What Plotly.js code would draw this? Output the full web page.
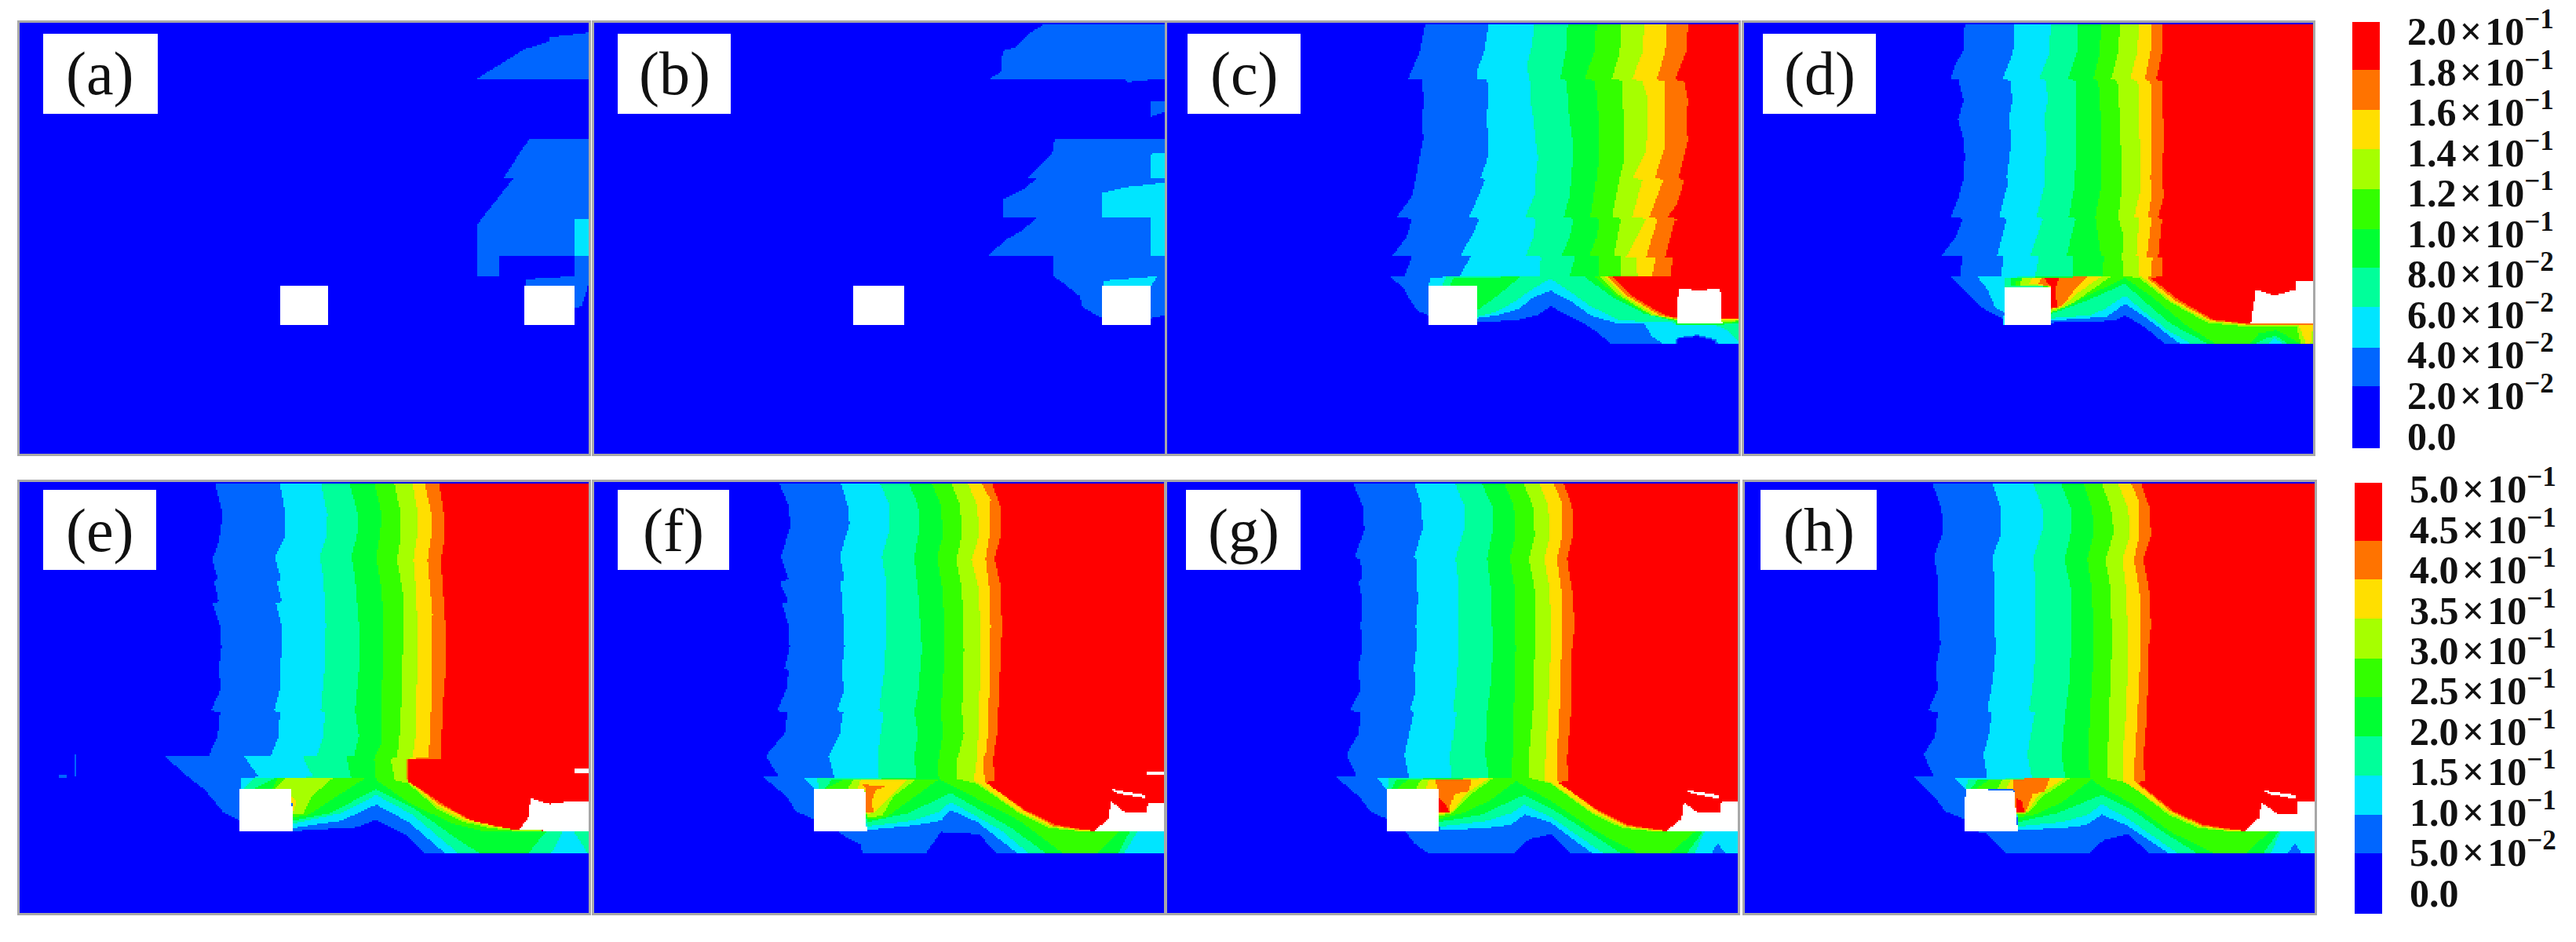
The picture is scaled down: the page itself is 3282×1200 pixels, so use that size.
<!DOCTYPE html>
<html><head><meta charset="utf-8"><script src="https://cdn.plot.ly/plotly-3.0.1.min.js"></script>
<style>html,body{margin:0;padding:0;background:#fff}</style></head><body><div id="c" style="width:3282px;height:1200px"></div>
<script>
// level colours, low to high
const levelColors=['#0000ff','#0066ff','#00e5ff','#00ff9a','#00ff33','#33ff00','#a6ff00','#ffdf00','#ff7300','#ff0000'];
const panelLabels=['(a)','(b)','(c)','(d)','(e)','(f)','(g)','(h)'];
const tickLabelsTop=['0.0','2.0\u200a×\u200a10<sup>−2</sup>','4.0\u200a×\u200a10<sup>−2</sup>','6.0\u200a×\u200a10<sup>−2</sup>','8.0\u200a×\u200a10<sup>−2</sup>','1.0\u200a×\u200a10<sup>−1</sup>','1.2\u200a×\u200a10<sup>−1</sup>','1.4\u200a×\u200a10<sup>−1</sup>','1.6\u200a×\u200a10<sup>−1</sup>','1.8\u200a×\u200a10<sup>−1</sup>','2.0\u200a×\u200a10<sup>−1</sup>'];
const tickLabelsBottom=['0.0','5.0\u200a×\u200a10<sup>−2</sup>','1.0\u200a×\u200a10<sup>−1</sup>','1.5\u200a×\u200a10<sup>−1</sup>','2.0\u200a×\u200a10<sup>−1</sup>','2.5\u200a×\u200a10<sup>−1</sup>','3.0\u200a×\u200a10<sup>−1</sup>','3.5\u200a×\u200a10<sup>−1</sup>','4.0\u200a×\u200a10<sup>−1</sup>','4.5\u200a×\u200a10<sup>−1</sup>','5.0\u200a×\u200a10<sup>−1</sup>'];
const bandEdgesTop=[-0.31,1.23,2.18,3.18,4.16,5.11,6.09,7.08,8.06,9.05,10.23];
const bandEdgesBottom=[-0.52,0.98,1.93,2.91,3.87,4.85,5.8,6.78,7.75,8.71,10.15];
// Iso-level regions: [level, [x,y,x,y,...]]; level -1 is an empty (white) area.
const regionsA=[
[1,[1255,258,1310,215,1380,160,1445,135,1445,120,1548,105,1548,260]],
[1,[1395,458,1548,458,1548,850,1315,852,1315,918,1255,918,1255,745,1350,592,1325,590,1375,490]],
[1,[1510,852,1548,852,1548,945,1530,1020,1505,1030,1505,950,1382,950,1385,930,1510,920]],
[2,[1510,725,1548,725,1548,850,1510,850]],
[-1,[735,950,865,950,865,1082,735,1082]],
[-1,[1380,950,1510,950,1510,1082,1380,1082]]];
const regionsB=[
[1,[1220,75,1535,75,1535,260,1500,262,1435,270,1430,262,1075,258,1105,235,1108,165,1140,155,1175,110]],
[1,[1497,332,1535,332,1535,370,1497,385]],
[1,[1245,460,1535,460,1535,1050,1500,1060,1370,1060,1320,1025,1310,985,1270,945,1240,918,1240,852,1070,850,1125,790,1165,760,1197,722,1108,720,1108,662,1165,625,1197,592,1175,590,1238,510]],
[2,[1497,510,1535,505,1535,590,1497,590]],
[2,[1368,640,1435,620,1535,605,1535,850,1497,850,1497,722,1368,722]],
[2,[1375,935,1515,920,1500,952,1375,952]],
[-1,[718,950,848,950,848,1082,718,1082]],
[-1,[1368,952,1497,952,1497,1082,1368,1082]]];
const regionsC=[
[1,[715,75,700,170,670,258,705,262,712,330,705,395,710,460,700,520,690,590,680,650,640,720,680,725,665,790,630,850,680,855,660,920,625,922,660,965,680,1010,695,1035,722,1050,722,1082,850,1072,950,1068,1010,1050,1045,1020,1090,1050,1150,1090,1205,1148,1375,1148,1375,1128,1430,1120,1478,1135,1478,1148,1538,1148,1538,75]],
[2,[882,75,870,170,850,235,850,258,878,262,882,320,875,395,882,450,878,530,860,590,872,595,855,650,830,720,858,725,835,790,808,850,835,855,805,920,730,925,722,950,850,952,850,1060,905,1050,960,1030,1000,990,1045,968,1100,1005,1150,1050,1210,1075,1290,1080,1310,1120,1340,1145,1372,1145,1375,1125,1430,1115,1478,1130,1485,1148,1538,1148,1538,75]],
[3,[1003,75,995,150,982,220,990,262,992,330,1000,395,1005,460,1012,520,1005,590,1005,640,978,720,1005,725,1000,790,980,850,1020,855,1015,920,770,922,760,950,850,952,850,1055,900,1040,950,1005,1000,960,1045,928,1095,970,1150,1020,1220,1065,1290,1072,1370,1075,1480,1085,1510,1100,1538,1140,1538,75]],
[4,[1090,75,1085,170,1070,260,1088,265,1090,330,1095,395,1105,480,1100,590,1095,650,1080,720,1105,725,1095,790,1075,850,1110,855,1095,920,1135,922,1200,985,1290,1045,1370,1070,1375,1082,1495,1082,1510,1075,1538,1075,1538,75]],
[4,[790,925,965,922,905,985,850,1035,850,952,780,950]],
[5,[1165,75,1160,170,1135,258,1162,265,1170,400,1172,500,1165,590,1150,720,1172,725,1165,790,1148,850,1172,855,1168,920,1160,922,1215,985,1300,1045,1370,1068,1495,1080,1538,1072,1538,75]],
[6,[1230,75,1225,170,1205,258,1232,265,1235,400,1238,520,1225,590,1205,720,1228,725,1210,850,1228,855,1228,920,1175,922,1225,985,1310,1050,1370,1065,1495,1075,1538,1068,1538,75]],
[7,[1290,75,1285,170,1258,260,1285,268,1300,330,1295,500,1260,590,1285,595,1258,720,1295,725,1270,790,1242,855,1268,858,1272,920,1185,922,1235,985,1320,1050,1370,1062,1538,1066,1538,75]],
[8,[1350,75,1345,170,1322,262,1345,268,1345,400,1345,480,1318,590,1340,595,1303,720,1325,725,1295,855,1320,858,1310,920,1195,922,1245,985,1330,1050,1370,1060,1495,1062,1538,1064,1538,75]],
[9,[1405,75,1400,170,1370,262,1395,268,1405,330,1400,400,1405,465,1380,590,1395,598,1375,680,1350,720,1390,728,1370,730,1345,855,1365,858,1358,920,1205,922,1255,985,1340,1048,1370,1058,1495,1060,1538,1060,1538,75]],
[-1,[722,952,850,952,850,1082,722,1082]],
[-1,[1380,960,1435,968,1490,960,1495,1080,1375,1080]]];
const regionsD=[
[1,[625,75,620,170,600,210,588,258,608,262,622,330,607,395,622,460,625,520,622,590,610,650,588,720,620,725,600,790,565,850,620,855,612,920,588,922,625,970,670,1025,726,1062,726,1082,855,1075,950,1072,1020,1068,1048,1050,1100,1090,1155,1148,1542,1148,1542,75]],
[2,[755,75,752,170,725,258,745,265,750,330,740,395,748,460,735,590,740,600,715,720,735,725,710,850,725,855,722,920,658,922,685,965,705,1025,728,1040,726,1082,855,1068,1000,1055,1048,1012,1110,1065,1195,1148,1542,1148,1542,75]],
[3,[852,75,850,170,823,258,840,265,845,330,835,395,842,460,835,590,835,620,815,720,832,725,800,850,822,855,812,920,730,925,728,955,855,955,855,1060,960,1050,1000,1025,1048,985,1100,1040,1160,1100,1225,1148,1425,1148,1440,1125,1465,1148,1542,1148,1542,75]],
[4,[925,75,922,170,898,258,918,265,920,500,915,620,900,720,918,725,895,850,912,855,910,920,745,925,745,950,855,955,855,1045,950,1000,1048,945,1100,1005,1170,1080,1270,1148,1385,1148,1420,1125,1445,1120,1480,1148,1542,1148,1542,75]],
[5,[985,75,982,170,965,258,978,265,985,400,985,620,970,720,978,790,985,850,992,855,990,920,760,935,760,952,855,955,855,1040,950,985,1048,925,1120,990,1210,1085,1290,1148,1375,1148,1400,1110,1445,1100,1490,1130,1510,1148,1542,1148,1542,75]],
[6,[1035,75,1030,170,1012,258,1028,265,1035,400,1040,620,1030,720,1045,790,1040,855,1045,920,1085,925,1165,1005,1265,1075,1380,1090,1500,1090,1510,1148,1542,1148,1542,75]],
[6,[770,950,775,925,1010,922,950,975,905,1015,855,1040,855,955]],
[7,[1085,75,1080,170,1062,258,1082,268,1085,400,1090,620,1072,720,1085,725,1078,850,1085,855,1085,920,1095,925,1172,1005,1270,1070,1380,1085,1505,1085,1525,1148,1535,1148,1542,1085,1542,75]],
[7,[795,945,805,925,985,922,925,975,880,1025,855,1030,855,955]],
[8,[1118,75,1115,170,1100,262,1115,268,1118,400,1115,590,1118,650,1108,720,1118,725,1105,855,1120,858,1115,920,1105,925,1182,1003,1275,1068,1380,1082,1542,1080,1542,75]],
[8,[820,945,830,925,948,922,915,965,890,1010,870,1025,855,1028,855,955]],
[9,[1148,75,1145,170,1130,262,1145,268,1150,460,1145,590,1150,650,1135,720,1145,730,1135,855,1148,858,1148,920,1115,925,1190,1000,1280,1065,1378,1080,1542,1080,1542,75]],
[9,[835,925,875,925,865,965,870,1025,852,1028,852,955]],
[-1,[728,955,852,955,855,1082,728,1082]],
[-1,[1392,965,1440,985,1495,965,1495,938,1542,938,1542,1080,1378,1080]]];
const regionsE=[
[1,[197,970,202,970,202,1042,197,1042]],
[1,[155,1038,175,1038,175,1050,155,1050]],
[1,[565,65,585,170,575,260,558,320,572,385,562,390,575,460,558,465,578,540,582,610,575,680,580,750,555,825,578,830,572,910,548,975,432,975,490,1040,540,1090,585,1160,630,1190,630,1225,770,1225,940,1212,990,1187,1065,1235,1115,1298,1548,1298,1548,65]],
[2,[735,65,750,170,750,240,722,310,738,385,728,395,740,460,725,465,740,540,742,610,735,680,735,750,720,825,735,830,732,910,712,975,640,975,680,1045,632,1048,632,1085,770,1085,770,1215,900,1190,990,1137,1075,1195,1170,1298,1548,1298,1548,65]],
[3,[845,65,862,170,860,240,842,310,852,385,858,540,855,610,855,680,850,750,845,825,855,830,852,910,835,975,795,975,825,1045,665,1050,640,1085,770,1085,770,1200,900,1165,990,1105,1085,1170,1205,1298,1450,1298,1480,1228,1510,1228,1545,1298,1548,1298,1548,65]],
[4,[920,65,942,170,940,240,925,310,935,385,945,540,945,680,935,825,945,910,932,975,912,978,925,1050,720,1050,665,1085,770,1085,770,1190,870,1165,990,1085,1090,1150,1190,1240,1260,1298,1390,1298,1435,1228,1548,1225,1548,65]],
[5,[985,65,1005,170,1000,240,990,315,1005,420,1010,610,1005,750,1005,930,985,985,990,1055,1075,1130,1190,1200,1270,1225,1548,1225,1548,65]],
[5,[730,1050,960,1050,880,1115,815,1170,770,1180,770,1085,715,1085]],
[6,[1038,65,1055,170,1055,240,1045,320,1060,430,1060,610,1058,750,1052,900,1045,980,1028,985,1040,1060,1070,1062,1150,1150,1220,1195,1290,1215,1360,1225,1548,1225,1548,65]],
[6,[750,1050,875,1050,820,1110,800,1165,770,1170,765,1085,720,1085]],
[7,[1085,65,1100,170,1098,240,1088,320,1095,430,1100,610,1095,800,1095,900,1085,980,1075,985,1072,1060,1155,1145,1225,1190,1295,1210,1365,1222,1548,1225,1548,65]],
[7,[765,1110,780,1130,770,1160]],
[8,[1118,65,1135,170,1135,240,1125,320,1138,500,1135,800,1128,980,1072,985,1072,1055,1160,1140,1230,1185,1300,1208,1365,1220,1548,1225,1548,65]],
[9,[1155,65,1168,170,1168,260,1160,320,1172,540,1172,700,1165,800,1160,985,1075,985,1072,1058,1170,1140,1240,1190,1310,1210,1360,1222,1548,1225,1548,65]],
[-1,[630,1085,765,1085,770,1225,630,1225]],
[-1,[1395,1115,1445,1135,1510,1125,1548,1125,1548,1225,1365,1222,1390,1180]],
[-1,[1510,1015,1548,1015,1548,1035,1510,1035]]];
const regionsF=[
[1,[520,65,545,140,550,210,525,310,545,385,522,395,545,460,528,465,545,540,548,610,535,680,545,690,540,750,515,825,542,830,535,900,485,975,520,1045,478,1045,540,1110,565,1160,612,1185,612,1225,675,1225,695,1245,735,1270,738,1298,905,1298,945,1228,1045,1235,1090,1298,1530,1298,1530,65]],
[2,[682,65,700,140,705,200,680,310,692,385,682,395,690,540,692,610,685,680,690,760,672,825,688,830,680,900,650,975,665,1048,585,1048,612,1085,745,1085,750,1222,880,1205,945,1190,970,1155,1040,1195,1145,1298,1530,1298,1530,65]],
[3,[785,65,810,140,810,220,790,310,800,385,800,600,795,700,782,825,795,830,780,960,780,1048,620,1050,625,1085,745,1085,750,1210,870,1190,940,1160,970,1128,1100,1220,1175,1298,1425,1298,1460,1228,1530,1228,1530,65]],
[4,[860,65,885,140,888,220,875,310,885,430,895,620,885,760,875,830,885,900,875,975,880,1050,660,1052,640,1085,745,1085,750,1195,860,1165,970,1098,1130,1215,1220,1298,1410,1298,1440,1228,1530,1228,1530,65]],
[5,[920,65,945,140,950,240,935,310,950,430,955,620,945,830,950,900,935,1020,940,1052,968,1070,1150,1190,1265,1298,1355,1298,1410,1228,1530,1228,1530,65]],
[5,[690,1052,940,1052,860,1125,800,1180,750,1185,745,1085,640,1085]],
[6,[972,65,995,140,1000,240,985,318,1000,420,1005,620,1000,830,1005,900,985,1000,985,1050,1040,1068,1150,1165,1230,1215,1310,1225,1530,1228,1530,65]],
[6,[715,1052,880,1052,820,1110,790,1175,750,1178,745,1085,700,1085]],
[7,[1015,65,1040,140,1045,240,1025,320,1045,420,1048,620,1045,830,1040,980,1030,1060,1040,1062,1150,1160,1235,1210,1315,1225,1530,1228,1530,65]],
[7,[735,1055,860,1052,810,1110,775,1160,750,1170,745,1085,725,1085]],
[8,[1050,65,1075,120,1072,240,1062,318,1072,420,1075,540,1070,830,1065,960,1055,985,1060,1060,1160,1155,1240,1208,1320,1222,1530,1228,1530,65]],
[8,[740,1070,805,1078,775,1085,762,1130,770,1160,745,1165,748,1085]],
[9,[1078,65,1100,140,1102,240,1085,315,1100,400,1105,540,1095,830,1092,900,1082,985,1085,1060,1060,1062,1165,1155,1245,1205,1345,1225,1530,1228,1530,65]],
[-1,[612,1085,745,1085,750,1225,612,1225]],
[-1,[1345,1225,1385,1185,1390,1125,1430,1165,1485,1165,1488,1130,1530,1130,1530,1225]],
[-1,[1390,1085,1480,1105,1480,1115,1410,1100]],
[-1,[1485,1025,1530,1028,1530,1040,1485,1035]]];
const regionsG=[
[1,[525,65,550,140,555,220,530,310,545,320,548,385,540,395,550,460,545,540,550,610,538,680,545,750,518,825,545,830,540,900,508,970,535,1045,480,1045,545,1115,570,1160,615,1185,615,1225,665,1228,685,1265,722,1298,945,1298,985,1252,1045,1235,1095,1298,1533,1298,1533,65]],
[2,[685,65,705,140,708,220,685,310,692,320,695,460,690,540,692,610,685,680,690,750,675,825,685,830,660,970,672,1048,588,1048,612,1085,745,1085,755,1222,870,1215,935,1205,975,1170,1040,1195,1150,1298,1465,1298,1480,1265,1500,1298,1533,1298,1533,65]],
[3,[790,65,815,140,815,220,792,315,800,400,800,620,795,730,785,825,795,830,780,970,782,1048,620,1050,615,1085,745,1085,752,1210,870,1192,940,1165,972,1138,1045,1180,1130,1255,1180,1298,1420,1298,1445,1228,1533,1228,1533,65]],
[4,[860,65,888,140,890,220,875,315,885,420,890,620,885,730,875,830,870,970,880,1048,640,1052,625,1085,745,1085,750,1195,860,1170,972,1105,1050,1155,1150,1235,1225,1298,1400,1298,1440,1228,1533,1228,1533,65]],
[5,[920,65,945,140,950,240,935,315,948,420,950,620,945,830,940,1048,972,1075,1050,1130,1160,1225,1270,1298,1355,1298,1420,1228,1533,1228,1533,65]],
[5,[670,1052,960,1050,880,1125,810,1165,752,1185,745,1085,640,1085]],
[6,[970,65,995,140,1000,240,985,318,1000,420,1000,620,995,830,985,970,985,1048,1040,1065,1150,1165,1230,1215,1310,1225,1533,1228,1533,65]],
[6,[705,1052,890,1050,830,1105,785,1165,750,1175,745,1085,690,1085]],
[7,[1012,65,1035,140,1040,240,1025,320,1040,420,1042,620,1035,830,1025,1060,1040,1062,1150,1160,1235,1210,1315,1225,1533,1228,1533,65]],
[7,[725,1055,880,1050,820,1100,785,1160,750,1170,745,1085,715,1085]],
[8,[1048,65,1072,130,1072,240,1058,320,1070,420,1072,540,1065,830,1058,985,1060,1060,1160,1155,1240,1208,1320,1222,1533,1228,1533,65]],
[8,[742,1052,835,1052,825,1095,790,1100,775,1165,750,1165,745,1085]],
[9,[1075,65,1098,140,1100,240,1085,318,1098,420,1105,540,1098,620,1095,830,1085,985,1088,1060,1060,1062,1165,1155,1245,1205,1345,1225,1533,1228,1533,65]],
[9,[750,1115,765,1130,780,1165,750,1165]],
[-1,[615,1085,748,1085,752,1225,612,1225]],
[-1,[1345,1225,1385,1185,1392,1130,1430,1165,1488,1165,1490,1128,1533,1125,1533,1225]],
[-1,[1395,1088,1482,1105,1482,1118,1415,1100]]];
const regionsH=[
[1,[540,65,565,150,568,230,545,310,555,385,555,470,562,600,550,680,555,750,530,825,555,830,548,910,518,970,545,1045,492,1045,545,1110,575,1160,625,1185,628,1225,680,1230,735,1298,955,1298,990,1255,1055,1235,1110,1298,1545,1298,1545,65]],
[2,[698,65,720,150,722,230,698,315,705,400,702,540,708,600,700,720,685,825,697,830,690,900,675,970,685,1048,598,1048,628,1085,760,1085,765,1222,880,1215,945,1205,985,1170,1050,1205,1160,1298,1475,1298,1492,1265,1510,1298,1545,1298,1545,65]],
[3,[805,65,830,150,830,220,805,315,812,400,812,620,805,730,795,825,810,830,790,970,802,1048,635,1055,628,1085,760,1085,765,1210,880,1195,950,1170,985,1135,1050,1180,1130,1250,1185,1298,1430,1298,1455,1228,1545,1228,1545,65]],
[4,[878,65,905,150,905,230,888,318,905,420,905,620,900,730,890,830,880,970,890,1048,660,1055,640,1085,760,1085,765,1195,870,1165,985,1105,1060,1150,1150,1230,1235,1298,1410,1298,1450,1228,1545,1228,1545,65]],
[5,[938,65,960,150,965,230,948,318,960,420,965,620,955,830,950,970,955,1048,985,1078,1060,1130,1170,1230,1280,1298,1365,1298,1425,1228,1545,1228,1545,65]],
[5,[690,1055,965,1048,880,1130,810,1170,765,1180,760,1085,655,1085]],
[6,[985,65,1010,150,1018,230,995,320,1010,420,1012,620,1005,830,1000,1048,1055,1065,1160,1170,1240,1215,1320,1225,1545,1228,1545,65]],
[6,[725,1055,905,1048,835,1105,790,1165,760,1170,755,1085,710,1085]],
[7,[1028,65,1055,150,1060,240,1040,320,1050,420,1055,620,1050,830,1040,980,1040,1060,1050,1065,1165,1165,1245,1210,1325,1225,1545,1228,1545,65]],
[7,[745,1055,890,1048,820,1105,790,1160,760,1165,755,1085,735,1085]],
[8,[1062,65,1085,130,1085,240,1070,320,1085,420,1088,620,1080,830,1072,1000,1072,1060,1170,1162,1250,1208,1330,1222,1545,1228,1545,65]],
[8,[755,1052,850,1048,835,1095,805,1100,785,1165,760,1160,755,1085]],
[9,[1088,65,1112,150,1115,240,1095,320,1110,420,1115,540,1108,620,1105,830,1095,980,1100,1060,1078,1062,1175,1160,1255,1205,1360,1225,1545,1228,1545,65]],
[9,[760,1115,775,1125,785,1165,760,1165]],
[-1,[628,1085,755,1090,765,1225,625,1225]],
[-1,[1360,1225,1400,1180,1405,1130,1450,1170,1500,1170,1500,1125,1545,1125,1545,1225]],
[-1,[1410,1090,1495,1105,1495,1118,1430,1103]]];
const allRegions=[regionsA,regionsB,regionsC,regionsD,regionsE,regionsF,regionsG,regionsH];
// value span of one colour level, per row of panels
const levelStep=[0.02,0.02,0.02,0.02,0.05,0.05,0.05,0.05];
// extents of each panel's own coordinate axes: xMin,xMax,yTop,yBottom
const extents=[[52,1548,72,1512],[35,1535,72,1512],[37,1538,72,1512],[45,1542,72,1512],[52,1548,62,1497],[35,1530,62,1497],[37,1533,62,1497],[48,1545,62,1497]];
// label boxes x0,x1,y0,y1 (empty rectangles in the field)
const labelBoxes=[[113,413,108,375],[95,396,108,375],[92,389,108,375],[96,392,108,375],[113,412,90,355],[95,391,90,355],[88,389,90,355],[91,393,90,355]];
// page placement px: x0,x1,y0,y1
const frames=[[25,750,29,578],[757,1484,29,578],[1487,2215,29,578],[2222,2947,29,578],[25,750,614,1163],[757,1483,614,1163],[1487,2214,614,1163],[2223,2949,614,1163]];
const barFrames=[[2997,3032,28,571],[3000,3035,615,1164]];

const W=3282,H=1200,NX=363,NY=275;
function rasterise(idx){
  const [x0,x1,y0,y1]=extents[idx],step=levelStep[idx];
  const xs=[],ys=[],z=[];
  for(let i=0;i<NX;i++)xs.push(x0+(i+.5)*(x1-x0)/NX);
  for(let j=0;j<NY;j++){ys.push(y0+(j+.5)*(y1-y0)/NY);z.push(new Array(NX).fill(0.5*step));}
  const regs=allRegions[idx].concat([[-1,(b=>[b[0],b[2],b[1],b[2],b[1],b[3],b[0],b[3]])(labelBoxes[idx])]]);
  regs.forEach(([lev,p])=>{
    const v=lev<0?null:(lev+.5)*step,n=p.length/2;
    for(let j=0;j<NY;j++){
      const y=ys[j],cross=[];
      for(let a=0;a<n;a++){
        const b=(a+1)%n,ya=p[2*a+1],yb=p[2*b+1];
        if((ya<=y)!==(yb<=y))cross.push(p[2*a]+(y-ya)/(yb-ya)*(p[2*b]-p[2*a]));
      }
      cross.sort((s,t)=>s-t);
      for(let c=0;c+1<cross.length;c+=2){
        const i0=Math.max(0,Math.ceil((cross[c]-x0)/(x1-x0)*NX-.5));
        const i1=Math.min(NX-1,Math.floor((cross[c+1]-x0)/(x1-x0)*NX-.5));
        for(let i=i0;i<=i1;i++)z[j][i]=v;
      }
    }
  });
  return {xs,ys,z};
}
function scale(){
  const s=[];levelColors.forEach((c,k)=>{s.push([k/10,c]);s.push([(k+1)/10,c]);});return s;
}
const traces=[],layout={width:W,height:H,margin:{l:0,r:0,t:0,b:0},paper_bgcolor:'#fff',plot_bgcolor:'#fff',showlegend:false,annotations:[]};
const serif='"Liberation Serif","Times New Roman",serif';
function dom(f){return {dx:[f[0]/W,f[1]/W],dy:[1-f[3]/H,1-f[2]/H]};}
frames.forEach((f,i)=>{
  const r=rasterise(i),n=i+1,d=dom(f),e=extents[i],b=labelBoxes[i];
  traces.push({type:'heatmap',x:r.xs,y:r.ys,z:r.z,xaxis:'x'+n,yaxis:'y'+n,zmin:0,zmax:10*levelStep[i],colorscale:scale(),showscale:false,hoverinfo:'skip'});
  const ax={showline:true,mirror:true,linecolor:'#a8a8a8',linewidth:3,showgrid:false,zeroline:false,showticklabels:false,ticks:'',tickmode:'array',tickvals:[],ticktext:[]};
  layout['xaxis'+n]=Object.assign({domain:d.dx,range:[e[0],e[1]],anchor:'y'+n},ax);
  layout['yaxis'+n]=Object.assign({domain:d.dy,range:[e[3],e[2]],anchor:'x'+n},ax);
  layout.annotations.push({xref:'x'+n,yref:'y'+n,x:(b[0]+b[1])/2,y:(b[2]+b[3])/2,text:panelLabels[i],showarrow:false,xanchor:'center',yanchor:'middle',font:{family:serif,size:78,color:'#111'}});
});
[[bandEdgesTop,tickLabelsTop,0.02],[bandEdgesBottom,tickLabelsBottom,0.05]].forEach(([edges,labels,step],k)=>{
  const n=9+k,d=dom(barFrames[k]);
  traces.push({type:'heatmap',x:[0,1],y:edges,z:levelColors.map((c,l)=>[(l+.5)*step]),xaxis:'x'+n,yaxis:'y'+n,zmin:0,zmax:10*step,colorscale:scale(),showscale:false,hoverinfo:'skip'});
  layout['xaxis'+n]={domain:d.dx,range:[0,1],anchor:'y'+n,showline:false,showgrid:false,zeroline:false,showticklabels:false,ticks:'',tickmode:'array',tickvals:[],ticktext:[]};
  layout['yaxis'+n]={domain:d.dy,range:[edges[0],edges[edges.length-1]],anchor:'x'+n,side:'right',showgrid:false,zeroline:false,showline:false,
    tickmode:'array',tickvals:labels.map((t,l)=>l),ticktext:labels,ticks:'outside',ticklen:24,tickwidth:1,tickcolor:'rgba(0,0,0,0)',
    tickfont:{family:serif,size:50,color:'#111',weight:700}};
});
Plotly.newPlot('c',traces,layout,{staticPlot:true,displayModeBar:false});
</script></body></html>
